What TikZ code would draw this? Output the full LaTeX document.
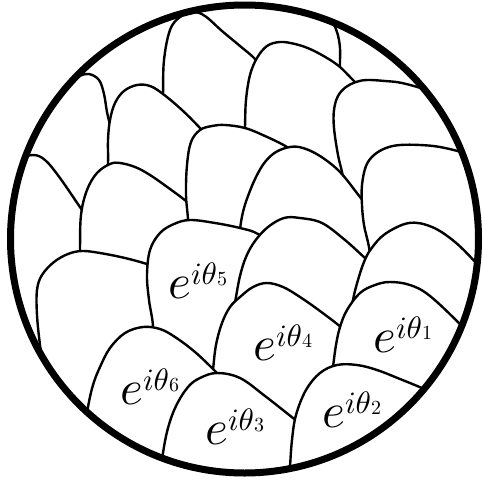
\documentclass[tikz,border=0pt]{standalone}
\usepackage{graphicx}
\newcommand{\ephase}[1]{\scalebox{4.9}{$e$}\raisebox{14pt}{\scalebox{3.1}{$i\theta$}\raisebox{-1pt}{\scalebox{2}{$#1$}}}}
\begin{document}
\begin{tikzpicture}[x=1pt,y=-1pt,
  shingle/.style={fill=white,draw=black,line width=2.4pt,line join=round,line cap=round},
  lbl/.style={inner sep=0pt,anchor=base west}]
\useasboundingbox (0,0) rectangle (483,480);
\begin{scope}
\clip (244.5,239) circle[radius=234pt];
% Z (back, top right of A)
\filldraw[shingle] plot[smooth,tension=0.6] coordinates {(292,-25) (318,2) (330,18) (337,32) (340,48) (340,66) (341,100)};
% A
\filldraw[shingle] plot[smooth,tension=0.6] coordinates {(162,135) (163,95) (164,60) (170,30) (180,17) (193,12) (205,16) (222,31) (240,46) (256,60) (276,84)};
% S1
\filldraw[shingle] plot[smooth,tension=0.6] coordinates {(-20,165) (20,108) (55,84) (79,76) (89,74) (99,80) (104,94) (107,112) (111,128) (118,150)};
% S2
\filldraw[shingle] plot[smooth,tension=0.6] coordinates {(106,200) (108,163) (108,140) (110,120) (115,103) (124,91) (137,85) (150,86) (163,94) (182,110) (200,128) (215,145)};
% S3
\filldraw[shingle] plot[smooth,tension=0.6] coordinates {(-30,230) (0,178) (20,160) (33,155) (45,160) (60,178) (82,210) (95,228)};
% S4
\filldraw[shingle] plot[smooth,tension=0.6] coordinates {(80,285) (80,250) (81,215) (87,190) (97,173) (110,164) (120,163) (135,167) (150,175) (170,189) (186,201) (200,213)};
% C
\filldraw[shingle] plot[smooth,tension=0.6] coordinates {(244,160) (245,127) (246,100) (250,75) (257,58) (267,46) (280,42) (295,44) (310,49) (327,58) (340,67) (352,79) (368,95)};
% D
\filldraw[shingle] plot[smooth,tension=0.6] coordinates {(345,200) (343,177) (338,155) (334,128) (334,110) (338,96) (346,87) (356,82) (367,80) (385,81) (402,83) (427,90) (455,100)};
% S5
\filldraw[shingle] plot[smooth,tension=0.6] coordinates {(188,245) (188,220) (186,195) (187,165) (191,142) (200,130) (212,126) (225,125) (245,128) (265,136) (287,147) (300,158)};
% S6
\filldraw[shingle] plot[smooth,tension=0.6] coordinates {(238,260) (240,230) (243,212) (248,196) (256,177) (265,162) (276,152) (290,147) (303,148) (320,156) (340,172) (360,197) (372,212)};
% E
\filldraw[shingle] plot[smooth,tension=0.6] coordinates {(372,270) (369,247) (364,225) (362,205) (362,185) (366,166) (374,155) (386,148) (400,145) (420,145) (440,147) (465,153) (495,162)};
% S7
\filldraw[shingle] plot[smooth,tension=0.6] coordinates {(45,380) (40,345) (37,315) (37,290) (42,275) (54,262) (68,254) (82,251) (100,253) (125,258) (147,264) (165,270)};
% theta5
\filldraw[shingle] plot[smooth,tension=0.6] coordinates {(150,350) (153,327) (149,300) (147,275) (150,250) (160,233) (174,224) (190,220) (215,223) (240,228) (258,234) (278,250)};
% I
\filldraw[shingle] plot[smooth,tension=0.6] coordinates {(232,320) (236,297) (240,276) (246,257) (255,241) (268,227) (284,218) (300,218) (322,223) (345,240) (365,258) (382,273)};
% H
\filldraw[shingle] plot[smooth,tension=0.6] coordinates {(350,325) (353,300) (358,280) (364,262) (371,249) (385,234) (409,223) (432,227) (455,242) (478,265) (500,290)};
% theta4
\filldraw[shingle] plot[smooth,tension=0.6] coordinates {(210,400) (213,370) (216,345) (222,323) (230,307) (240,297) (253,287) (267,283) (283,287) (300,297) (320,311) (342,328) (360,345)};
% theta6
\filldraw[shingle] plot[smooth,tension=0.6] coordinates {(85,430) (88,407) (93,385) (100,367) (110,348) (125,333) (143,327) (160,329) (175,337) (195,352) (216,372) (235,392)};
% theta1
\filldraw[shingle] plot[smooth,tension=0.6] coordinates {(330,390) (333,367) (336,345) (340,327) (347,310) (360,293) (375,285) (390,282) (410,285) (430,296) (463,327) (490,355)};
% theta3
\filldraw[shingle] plot[smooth,tension=0.6] coordinates {(160,480) (163,453) (168,428) (176,406) (188,387) (200,378) (217,373) (240,378) (265,396) (293,418) (312,433)};
% theta2
\filldraw[shingle] plot[smooth,tension=0.6] coordinates {(288,500) (290,467) (292,440) (296,415) (306,390) (320,373) (337,365) (357,365) (377,370) (400,379) (422,388) (450,400)};
\end{scope}
\draw[line width=7pt] (244.5,239) circle[radius=234pt];
\node[lbl] (l5) at (168,298) {\ephase{5}};
\node[lbl] (l4) at (253,360) {\ephase{4}};
\node[lbl] (l1) at (373,352) {\ephase{1}};
\node[lbl] (l6) at (120,404) {\ephase{6}};
\node[lbl] (l3) at (205,444) {\ephase{3}};
\node[lbl] (l2) at (322,427) {\ephase{2}};
\end{tikzpicture}
\end{document}
